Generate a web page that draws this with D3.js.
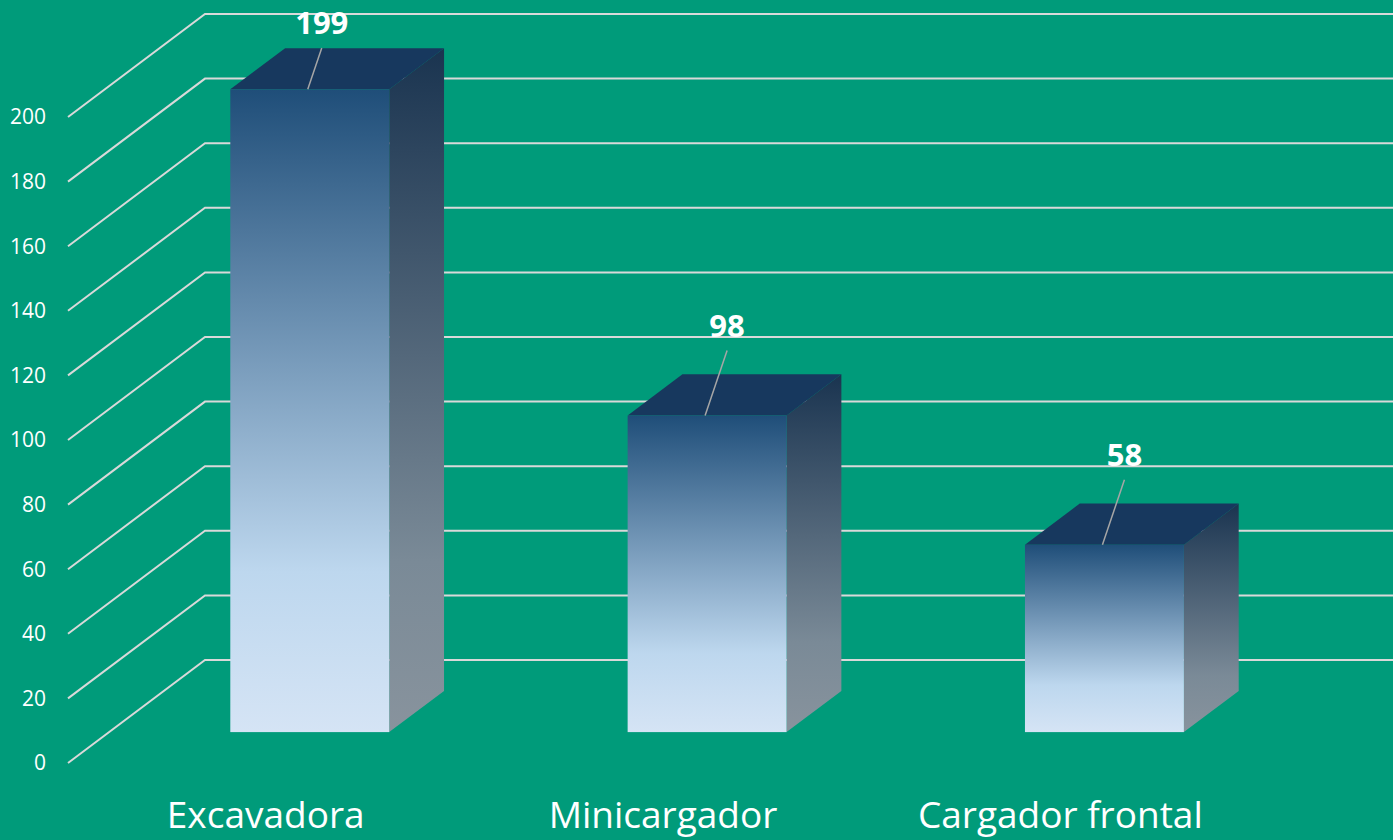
<!DOCTYPE html>
<html lang="es">
<head>
  <meta charset="UTF-8">
  <title>Maquinaria</title>
  <script src="https://d3js.org/d3.v7.min.js"></script>
  <style>
    body { margin: 0; padding: 0; background: #009b7a; overflow: hidden; }
    svg { display: block; font-family: "Open Sans", sans-serif; }
  </style>
</head>
<body>
  <div id="chart"></div>
  <script>
    const categories = ["Excavadora", "Minicargador", "Cargador frontal"];
    const values = [199, 98, 58];
    const yTicks = [0, 20, 40, 60, 80, 100, 120, 140, 160, 180, 200];

    const width = 1393, height = 840;
    // depth of the 3D floor: back wall offset
    const depthX = 137, depthY = -103;
    const zFront = 0.3, zBack = 0.7;

    const svg = d3.select("#chart").append("svg")
      .attr("width", width)
      .attr("height", height);

    svg.append("rect").attr("width", width).attr("height", height).attr("fill", "#009b7a");

    const x = d3.scaleBand().domain(categories).range([70, 1262])
      .paddingInner(0.6).paddingOuter(0.3);
    const y = d3.scaleLinear().domain([0, 200]).range([763, 117]);

    // project (screen x at front plane, value, depth z)
    const px = (sx, z) => sx + depthX * z;
    const py = (v, z) => y(v) + depthY * z;

    const defs = svg.append("defs");
    const front = defs.append("linearGradient").attr("id", "gFront")
      .attr("x1", 0).attr("y1", 0).attr("x2", 0).attr("y2", 1);
    front.append("stop").attr("offset", 0).attr("stop-color", "#1f4e79");
    front.append("stop").attr("offset", 0.75).attr("stop-color", "#bdd7ee");
    front.append("stop").attr("offset", 1).attr("stop-color", "#d5e4f5");

    const side = defs.append("linearGradient").attr("id", "gSide")
      .attr("x1", 0).attr("y1", 0).attr("x2", 0).attr("y2", 1);
    side.append("stop").attr("offset", 0).attr("stop-color", "#1a3450");
    side.append("stop").attr("offset", 0.75).attr("stop-color", "#7a8a97");
    side.append("stop").attr("offset", 1).attr("stop-color", "#88939d");

    // gridlines: floor diagonal then back wall
    const grid = svg.append("g")
      .attr("fill", "none")
      .attr("stroke", "#d9d9d9")
      .attr("stroke-width", 2);
    grid.selectAll("path")
      .data(yTicks)
      .join("path")
      .attr("d", t => `M${px(68, 0)},${py(t, 0)}L${px(68, 1)},${py(t, 1)}L${width},${py(t, 1)}`);

    svg.append("g")
      .selectAll("text")
      .data(yTicks)
      .join("text")
      .attr("x", 46)
      .attr("y", t => y(t))
      .attr("dy", "0.35em")
      .attr("text-anchor", "end")
      .attr("fill", "#fff")
      .attr("font-size", 21)
      .text(t => t);

    const data = categories.map((c, i) => ({ c, v: values[i] }));
    const bars = svg.append("g").selectAll("g").data(data).join("g");

    bars.each(function (d) {
      const g = d3.select(this);
      const x0 = x(d.c), x1 = x(d.c) + x.bandwidth();
      const fl = px(x0, zFront), fr = px(x1, zFront);
      const br = px(x1, zBack), bl = px(x0, zBack);
      const ft = py(d.v, zFront), fb = py(0, zFront);
      const bt = py(d.v, zBack), bb = py(0, zBack);

      g.append("path")
        .attr("d", `M${fr},${ft}L${br},${bt}L${br},${bb}L${fr},${fb}Z`)
        .attr("fill", "url(#gSide)");
      g.append("path")
        .attr("d", `M${fl},${ft}L${bl},${bt}L${br},${bt}L${fr},${ft}Z`)
        .attr("fill", "#17385e");
      g.append("rect")
        .attr("x", fl).attr("y", ft)
        .attr("width", fr - fl).attr("height", fb - ft)
        .attr("fill", "url(#gFront)");

      // value label with leader line
      const cx = (fl + fr) / 2 - 2;
      const len = Math.min(65, ft - 48);
      const lx = cx + 22 * len / 65, ly = ft - len;
      g.append("line")
        .attr("x1", cx).attr("y1", ft)
        .attr("x2", lx).attr("y2", ly)
        .attr("stroke", "#a6a6a6").attr("stroke-width", 1.5);
      g.append("text")
        .attr("x", lx).attr("y", ly - 14)
        .attr("text-anchor", "middle")
        .attr("fill", "#fff")
        .attr("font-size", 31)
        .attr("font-weight", "bold")
        .text(d.v);
    });

    svg.append("g")
      .selectAll("text")
      .data(categories)
      .join("text")
      .attr("x", c => x(c) + x.bandwidth() / 2 - 3)
      .attr("y", 828)
      .attr("text-anchor", "middle")
      .attr("fill", "#fff")
      .attr("font-size", 37)
      .text(c => c);
  </script>
</body>
</html>
